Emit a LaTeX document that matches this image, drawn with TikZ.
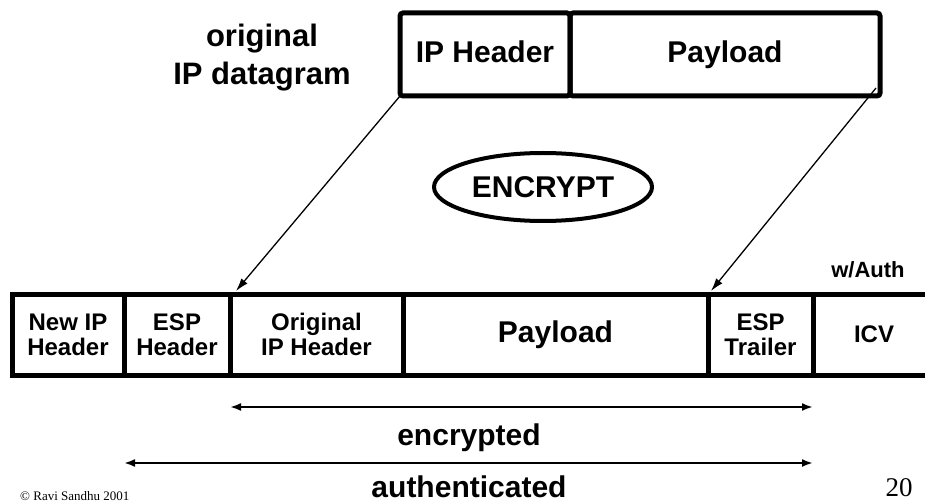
\documentclass[tikz,border=0pt]{standalone}
\usepackage{fontspec}
\setmainfont{Liberation Sans}
\newfontfamily\serifont{Liberation Serif}
\usetikzlibrary{shapes.geometric,arrows.meta,calc}
\begin{document}
\begin{tikzpicture}[x=1pt,y=-1pt,
  cell/.style={draw, line width=5pt, minimum height=81pt, inner sep=0pt, outer sep=0pt, align=center, font=\bfseries\fontsize{24}{25}\selectfont},
  big/.style={font=\bfseries\fontsize{30}{32}\selectfont},
  even/.style={text height=22pt, text depth=6pt},
  ptr/.style={line width=1.3pt, -{Latex[length=13pt,width=8pt]}},
  spanarrow/.style={line width=2pt, {Latex[length=11pt,width=8pt]}-{Latex[length=11pt,width=8pt]}},
]
\useasboundingbox (0,0) rectangle (925,502);

% original datagram
\node[cell, big, even, rounded corners=3pt, minimum width=170pt, minimum height=83pt] (iph) at (485,54.5) {IP Header};
\node[cell, big, even, rounded corners=3pt, minimum width=310pt, minimum height=83pt] (tpay) at (725,54.5) {Payload};
\node[align=center, font=\bfseries\fontsize{31}{38}\selectfont] (orig-lbl) at (262,58) {original\\IP datagram};

% encrypt
\node[ellipse, draw, line width=4pt, minimum width=218pt, minimum height=68pt, big] (encr) at (543,187) {ENCRYPT};

% ESP packet
\node[cell, minimum width=112pt] (newip) at (68,334.5) {New IP\\Header};
\node[cell, minimum width=106pt] (esp) at (177,334.5) {ESP\\Header};
\node[cell, minimum width=173pt] (orig) at (316.5,334.5) {Original\\IP Header};
\node[cell, even, minimum width=305pt, font=\bfseries\fontsize{30}{32}\selectfont] (pay) at (555.5,334.5) {Payload};
\node[cell, minimum width=105pt] (trl) at (760.5,334.5) {ESP\\Trailer};
\node[cell, minimum width=122pt] (icv) at (874,334.5) {ICV};
\node[font=\bfseries\fontsize{22}{24}\selectfont] (wauth) at (868,270) {w/Auth};

% mapping arrows
\draw[ptr] (iph.south west) -- ($(orig.north west)+(6,-3)$);
\draw[ptr] ($(tpay.south east)+(-4,-8)$) -- ($(trl.north west)+(3,-3)$);

% spans
\coordinate (e1) at ($(orig.south west)+(0,32)$);
\coordinate (e2) at ($(trl.south east)+(0,32)$);
\draw[spanarrow] (e1) -- (e2);
\node[big] (enclbl) at (469,438) {encrypted};
\coordinate (a1) at ($(esp.south west)+(0,88)$);
\coordinate (a2) at ($(trl.south east)+(0,88)$);
\draw[spanarrow] (a1) -- (a2);
\node[big, anchor=base, inner sep=0pt] (authlbl) at (469,497) {authenticated};

% footer
\node[anchor=south west, inner sep=0pt, font=\serifont\fontsize{13}{15}\selectfont] (copy) at (20,501) {© Ravi Sandhu 2001};
\node[font=\serifont\fontsize{27}{30}\selectfont] (pg) at (899,488) {20};
\end{tikzpicture}
\end{document}
